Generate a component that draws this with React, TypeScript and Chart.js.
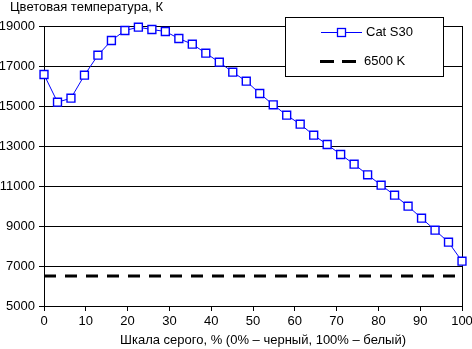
import React, { useEffect, useRef } from "react";
import { Chart, registerables } from "chart.js";

Chart.register(...registerables);

const grayLevels = [
  0, 3.23, 6.45, 9.68, 12.9, 16.13, 19.35, 22.58, 25.81, 29.03, 32.26, 35.48,
  38.71, 41.94, 45.16, 48.39, 51.61, 54.84, 58.06, 61.29, 64.52, 67.74, 70.97,
  74.19, 77.42, 80.65, 83.87, 87.1, 90.32, 93.55, 96.77, 100,
];
const catS30 = [
  16575, 15190, 15390, 16540, 17540, 18275, 18775, 18940, 18825, 18725, 18375,
  18090, 17640, 17190, 16690, 16240, 15625, 15060, 14540, 14090, 13540, 13075,
  12575, 12090, 11560, 11040, 10540, 9990, 9390, 8790, 8190, 7240,
];
const refX = [0, 100];
const refY = [6500, 6500];

const titleText = "Цветовая температура, К";
const xTitleText = "Шкала серого, % (0% – черный, 100% – белый)";
const seriesName = "Cat S30";
const refName = "6500 K";

const FONT = '"Liberation Sans", Arial, sans-serif';
const BLUE = "#0000ff";

const overlayPlugin = {
  id: "overlay",
  afterDraw(chart: any) {
    const ctx = chart.ctx as CanvasRenderingContext2D;
    ctx.save();
    ctx.fillStyle = "#000";
    ctx.font = `13px ${FONT}`;
    ctx.textBaseline = "middle";
    ctx.textAlign = "left";
    ctx.fillText(titleText, 10, 7);
    ctx.textAlign = "center";
    ctx.fillText(xTitleText, 263, 340);

    // legend box
    ctx.fillStyle = "#fff";
    ctx.fillRect(285, 17, 158, 59);
    ctx.strokeStyle = "#000";
    ctx.lineWidth = 1;
    ctx.strokeRect(285.5, 17.5, 158, 59);

    // series entry
    ctx.strokeStyle = BLUE;
    ctx.lineWidth = 1;
    ctx.beginPath();
    ctx.moveTo(321, 32.5);
    ctx.lineTo(362, 32.5);
    ctx.stroke();
    ctx.fillStyle = "#fff";
    ctx.fillRect(337.5, 28.5, 8, 8);
    ctx.lineWidth = 1.3;
    ctx.strokeRect(337.5, 28.5, 8, 8);
    ctx.fillStyle = "#000";
    ctx.textAlign = "left";
    ctx.fillText(seriesName, 366, 32);

    // reference entry
    ctx.strokeStyle = "#000";
    ctx.lineWidth = 3;
    ctx.setLineDash([14, 8]);
    ctx.beginPath();
    ctx.moveTo(320, 61.5);
    ctx.lineTo(356, 61.5);
    ctx.stroke();
    ctx.setLineDash([]);
    ctx.fillText(refName, 364, 61);
    ctx.restore();
  },
};

export default function App() {
  const ref = useRef<HTMLCanvasElement | null>(null);

  useEffect(() => {
    if (!ref.current) return;
    Chart.defaults.font.family = FONT;
    Chart.defaults.font.size = 13;
    Chart.defaults.color = "#000";
    const chart = new Chart(ref.current, {
      type: "line",
      data: {
        datasets: [
          {
            label: seriesName,
            data: grayLevels.map((x, i) => ({ x, y: catS30[i] })),
            borderColor: BLUE,
            borderWidth: 1,
            pointStyle: "rect",
            pointRadius: 5.6,
            pointBackgroundColor: "#fff",
            pointBorderColor: BLUE,
            pointBorderWidth: 1.4,
            tension: 0,
            clip: false,
          } as any,
          {
            label: refName,
            data: refX.map((x, i) => ({ x, y: refY[i] })),
            borderColor: "#000",
            borderWidth: 3,
            borderDash: [12, 9],
            pointRadius: 0,
            tension: 0,
          },
        ],
      },
      options: {
        responsive: false,
        animation: false,
        devicePixelRatio: 1,
        layout: { padding: { top: 26, right: 10, left: 0, bottom: 0 } },
        plugins: {
          legend: { display: false },
          title: { display: false },
          tooltip: { enabled: false },
        },
        scales: {
          x: {
            type: "linear",
            min: 0,
            max: 100,
            ticks: {
              stepSize: 10,
              color: "#000",
              padding: 3,
              maxRotation: 0,
              callback: (v: any) => String(v),
            },
            grid: {
              color: (c: any) =>
                c.tick && c.tick.value === 100 ? "#000" : "rgba(0,0,0,0)",
              tickColor: "#000",
              tickLength: 5,
              lineWidth: 1,
            },
            border: { color: "#000", width: 1 },
            afterFit: (s: any) => {
              s.height = 43;
              s.paddingLeft = 0;
              s.paddingRight = 0;
            },
          },
          y: {
            type: "linear",
            min: 5000,
            max: 19000,
            ticks: {
              stepSize: 2000,
              color: "#000",
              padding: 4,
              callback: (v: any) => String(v),
            },
            grid: { color: "#000", tickColor: "#000", tickLength: 5, lineWidth: 1 },
            border: { color: "#000", width: 1 },
            afterFit: (s: any) => {
              s.width = 44;
              s.paddingTop = 0;
              s.paddingBottom = 0;
            },
          },
        },
      },
      plugins: [overlayPlugin],
    });
    return () => chart.destroy();
  }, []);

  return (
    <div style={{ position: "fixed", left: 0, top: 0, width: 472, height: 349, background: "#fff" }}>
      <canvas ref={ref} width={472} height={349} />
    </div>
  );
}
